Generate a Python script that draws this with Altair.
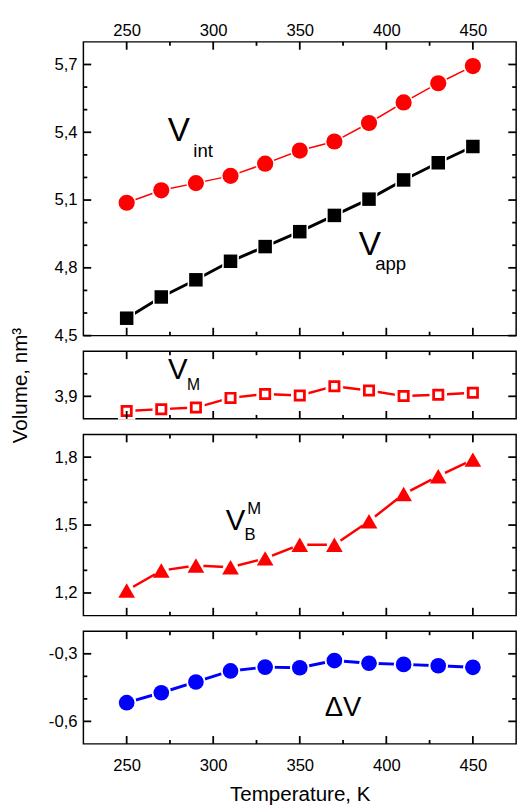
import altair as alt
import pandas as pd

# ---------------- data ----------------
temps = [250, 270, 290, 310, 330, 350, 370, 390, 410, 430, 450]
v_int = [5.088, 5.143, 5.175, 5.207, 5.261, 5.319, 5.359, 5.441, 5.532, 5.617, 5.693]
v_app = [4.577, 4.671, 4.747, 4.829, 4.894, 4.960, 5.032, 5.104, 5.189, 5.265, 5.337]
v_m = [3.835, 3.843, 3.850, 3.893, 3.910, 3.904, 3.945, 3.926, 3.901, 3.907, 3.916]
v_bm = [1.211, 1.299, 1.321, 1.314, 1.353, 1.413, 1.413, 1.517, 1.637, 1.716, 1.789]
d_v = [-0.517, -0.473, -0.425, -0.376, -0.359, -0.362, -0.330, -0.342, -0.347, -0.353, -0.360]

x_domain = [225, 475]
x_major = [250, 300, 350, 400, 450]
x_minor = [275, 325, 375, 425]

p1_domain = [4.5, 5.8]
p1_major = [4.5, 4.8, 5.1, 5.4, 5.7]
p1_minor = [4.6, 4.7, 4.9, 5.0, 5.2, 5.3, 5.5, 5.6]

p2_domain = [3.8, 4.1]
p2_major = [3.9]
p2_minor = [4.0]

p3_domain = [1.1, 1.9]
p3_major = [1.2, 1.5, 1.8]
p3_minor = [1.3, 1.4, 1.6, 1.7]

p4_domain = [-0.7, -0.2]
p4_major = [-0.6, -0.3]
p4_minor = [-0.5, -0.4]

# annotation anchors (data coordinates)
ann1_big = {"t": ["V", "V"], "T": [280.1, 390.5], "v": [5.361, 4.856]}
ann1_sub = {"t": ["int", "app"], "T": [294.2, 402.5], "v": [5.292, 4.791]}
ann2_big = {"t": ["V"], "T": [279.5], "v": [3.977]}
ann2_sub = {"t": ["M"], "T": [288.6], "v": [3.927]}
ann3_big = {"t": ["V"], "T": [312.9], "v": [1.479]}
ann3_sub = {"t": ["B", "M"], "T": [321.3, 323.6], "v": [1.432, 1.551]}
ann4_big = {"t": ["\u0394V"], "T": [375.0], "v": [-0.575]}

FONT = "Liberation Sans"
LABEL_EXPR = "replace(replace(format(datum.value, '.1f'), '.', ','), '\u2212', '-')"
W = 442
MAJ = 8
MIN = 4
TICK_W = 1.8
TICK_C = "black"


def panel(series, anns, ydom, ymaj, ymin, height, xaxis_orient=None, ytitle=None, xtitle=None):
    xs = alt.Scale(domain=x_domain, nice=False, zero=False)
    ys = alt.Scale(domain=ydom, nice=False, zero=False)

    yax_kw = dict(orient="left", values=ymaj, ticks=False, tickSize=0, domain=False, grid=False,
                  labelExpr=LABEL_EXPR, labelFontSize=17, labelFont=FONT, labelColor="black",
                  labelPadding=6.5, labelFlush=False, labelOverlap=False)
    if ytitle is not None:
        yax_kw.update(title=ytitle, titleFontSize=21, titleFont=FONT, titleFontWeight="normal",
                      titleColor="black", titlePadding=24)
    else:
        yax_kw.update(title=None)
    yax = alt.Axis(**yax_kw)

    if xaxis_orient is not None:
        xax_kw = dict(orient=xaxis_orient, values=x_major, ticks=False, tickSize=0, domain=False,
                      grid=False, labelFontSize=17, labelFont=FONT, labelColor="black",
                      labelPadding=3 if xaxis_orient == "top" else 14,
                      labelFlush=False, labelOverlap=False)
        if xtitle is not None:
            xax_kw.update(title=xtitle, titleFontSize=21, titleFont=FONT,
                          titleFontWeight="normal", titleColor="black", titlePadding=11)
        else:
            xax_kw.update(title=None)
        xax = alt.Axis(**xax_kw)
    else:
        xax = None

    def X(field="T"):
        return alt.X(f"{field}:Q", scale=xs, axis=xax)

    def Y(field="v"):
        return alt.Y(f"{field}:Q", scale=ys, axis=yax)

    layers = []
    for s in series:
        vals, color, shape, size, halo, lw = s[:6]
        extra = s[6] if len(s) > 6 else {}
        df = pd.DataFrame({"T": temps, "v": vals})
        layers.append(alt.Chart(df).mark_line(color=color, strokeWidth=lw).encode(x=X(), y=Y()))
        layers.append(alt.Chart(df).mark_point(
            shape="circle" if shape == "triangle-up" else shape,
            filled=True, color="white", opacity=1, size=halo).encode(x=X(), y=Y()))
        if extra.get("filled", True):
            layers.append(alt.Chart(df).mark_point(shape=shape, filled=True, color=color,
                                                   opacity=1, size=size).encode(x=X(), y=Y()))
        else:
            layers.append(alt.Chart(df).mark_point(
                shape=shape, filled=False, color=color, fill="white", fillOpacity=1,
                opacity=1, size=size, strokeWidth=extra.get("stroke_w", 2)).encode(x=X(), y=Y()))

    # inward tick marks on all four sides
    for vals, ln in ((x_major, MAJ), (x_minor, MIN)):
        df = pd.DataFrame({"T": vals})
        layers.append(alt.Chart(df).mark_rule(color=TICK_C, strokeWidth=TICK_W).encode(
            x=X(), y=alt.value(0), y2=alt.value(ln)))
        layers.append(alt.Chart(df).mark_rule(color=TICK_C, strokeWidth=TICK_W).encode(
            x=X(), y=alt.value(height), y2=alt.value(height - ln)))
    for vals, ln in ((ymaj, MAJ), (ymin, MIN)):
        df = pd.DataFrame({"v": vals})
        layers.append(alt.Chart(df).mark_rule(color=TICK_C, strokeWidth=TICK_W).encode(
            y=Y(), x=alt.value(0), x2=alt.value(ln)))
        layers.append(alt.Chart(df).mark_rule(color=TICK_C, strokeWidth=TICK_W).encode(
            y=Y(), x=alt.value(W), x2=alt.value(W - ln)))

    for ann, fs in anns:
        df = pd.DataFrame(ann)
        layers.append(alt.Chart(df).mark_text(font=FONT, fontSize=fs, color="black",
                                              align="center", baseline="alphabetic").encode(
            x=X(), y=Y(), text=alt.Text("t:N")))
    return alt.layer(*layers).properties(width=W, height=height)


p1 = panel([(v_int, "#ff0000", "circle", 272, 380, 1.5),
            (v_app, "black", "square", 190, 290, 3)],
           [(ann1_big, 34), (ann1_sub, 19)], p1_domain, p1_major, p1_minor, 300,
           xaxis_orient="top")
p2 = panel([(v_m, "#ff0000", "square", 90, 320, 2.5, {"filled": False, "stroke_w": 2.8})],
           [(ann2_big, 30), (ann2_sub, 16)], p2_domain, p2_major, p2_minor, 69,
           ytitle="Volume, nm\u00b3")
p3 = panel([(v_bm, "#ff0000", "triangle-up", 290, 240, 2.5)],
           [(ann3_big, 30), (ann3_sub, 17)], p3_domain, p3_major, p3_minor, 185)
p4 = panel([(d_v, "#0000ff", "circle", 256, 400, 3)],
           [(ann4_big, 28)], p4_domain, p4_major, p4_minor, 115,
           xaxis_orient="bottom", xtitle="Temperature, K")

chart = alt.vconcat(p1, p2, p3, p4, spacing=16, bounds="flush").properties(
    padding={"left": 1, "top": 4, "right": 5, "bottom": 0}
).configure(font=FONT).configure_view(stroke="black", strokeWidth=1.5)

chart.save("out.html", embed_options={"renderer": "svg", "actions": False})
